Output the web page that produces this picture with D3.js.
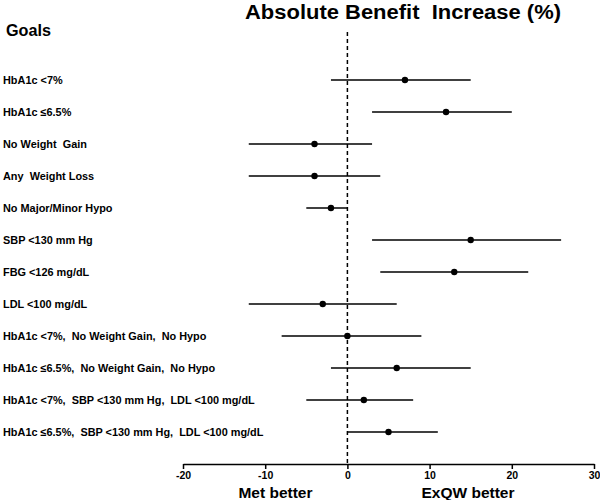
<!DOCTYPE html>
<html><head><meta charset="utf-8">
<script src="https://d3js.org/d3.v7.min.js"></script>
<style>body{margin:0;background:#fff;}svg{display:block;font-family:"Liberation Sans",Arial,sans-serif;}text{white-space:pre;}</style>
</head><body><svg id="c" width="600" height="500"></svg>
<script>
const goals = ["HbA1c <7%","HbA1c \u22646.5%","No Weight  Gain","Any  Weight Loss","No Major/Minor Hypo","SBP <130 mm Hg","FBG <126 mg/dL","LDL <100 mg/dL","HbA1c <7%,  No Weight Gain,  No Hypo","HbA1c \u22646.5%,  No Weight Gain,  No Hypo","HbA1c <7%,  SBP <130 mm Hg,  LDL <100 mg/dL","HbA1c \u22646.5%,  SBP <130 mm Hg,  LDL <100 mg/dL"];
const estimate = [7,12,-4,-4,-2,15,13,-3,0,6,2,5];
const lower = [-2,3,-12,-12,-5,3,4,-12,-8,-2,-5,0];
const upper = [15,20,3,4,0,26,22,6,9,15,8,11];
const xTicks = [-20,-10,0,10,20,30];

const svg = d3.select("#c");
const x = d3.scaleLinear().domain([-20,30]).range([183,594]);
const y = d3.scalePoint().domain(d3.range(goals.length)).range([80,432]);

svg.append("text").attr("x",245).attr("y",19).attr("font-size",20).attr("font-weight","bold")
  .attr("textLength",316).attr("lengthAdjust","spacingAndGlyphs").text("Absolute Benefit  Increase (%)");
svg.append("text").attr("x",6).attr("y",36).attr("font-size",16.5).attr("font-weight","bold")
  .attr("textLength",45).attr("lengthAdjust","spacingAndGlyphs").text("Goals");

svg.append("line").attr("x1",x(0)).attr("x2",x(0)).attr("y1",32).attr("y2",464)
  .attr("stroke","#000").attr("stroke-width",1.5).attr("stroke-dasharray","4,3");

const g = svg.append("g");
goals.forEach((d,i)=>{
  g.append("text").attr("x",3).attr("y",y(i)+4).attr("font-size",10.9).attr("font-weight","bold").text(d);
  g.append("line").attr("x1",x(lower[i])).attr("x2",x(upper[i])).attr("y1",y(i)).attr("y2",y(i))
    .attr("stroke","#000").attr("stroke-width",1.5);
  g.append("circle").attr("cx",x(estimate[i])).attr("cy",y(i)).attr("r",3.2).attr("fill","#000");
});

const ax = svg.append("g").attr("transform","translate(0,464)")
  .call(d3.axisBottom(x).tickValues(xTicks).tickSize(5).tickSizeOuter(0).tickFormat(d=>String(d)));
ax.select(".domain").attr("stroke-width",1.5);
ax.selectAll(".tick line").attr("stroke-width",1.5);
ax.selectAll("text").attr("font-size",10.5).attr("font-weight","bold").attr("font-family","Liberation Sans,Arial,sans-serif").attr("y",7).attr("dy","0.75em");

svg.append("text").attr("x",275.5).attr("y",498).attr("text-anchor","middle").attr("font-size",15.5).attr("font-weight","bold").text("Met better");
svg.append("text").attr("x",468).attr("y",498).attr("text-anchor","middle").attr("font-size",15.5).attr("font-weight","bold").text("ExQW better");
</script></body></html>
